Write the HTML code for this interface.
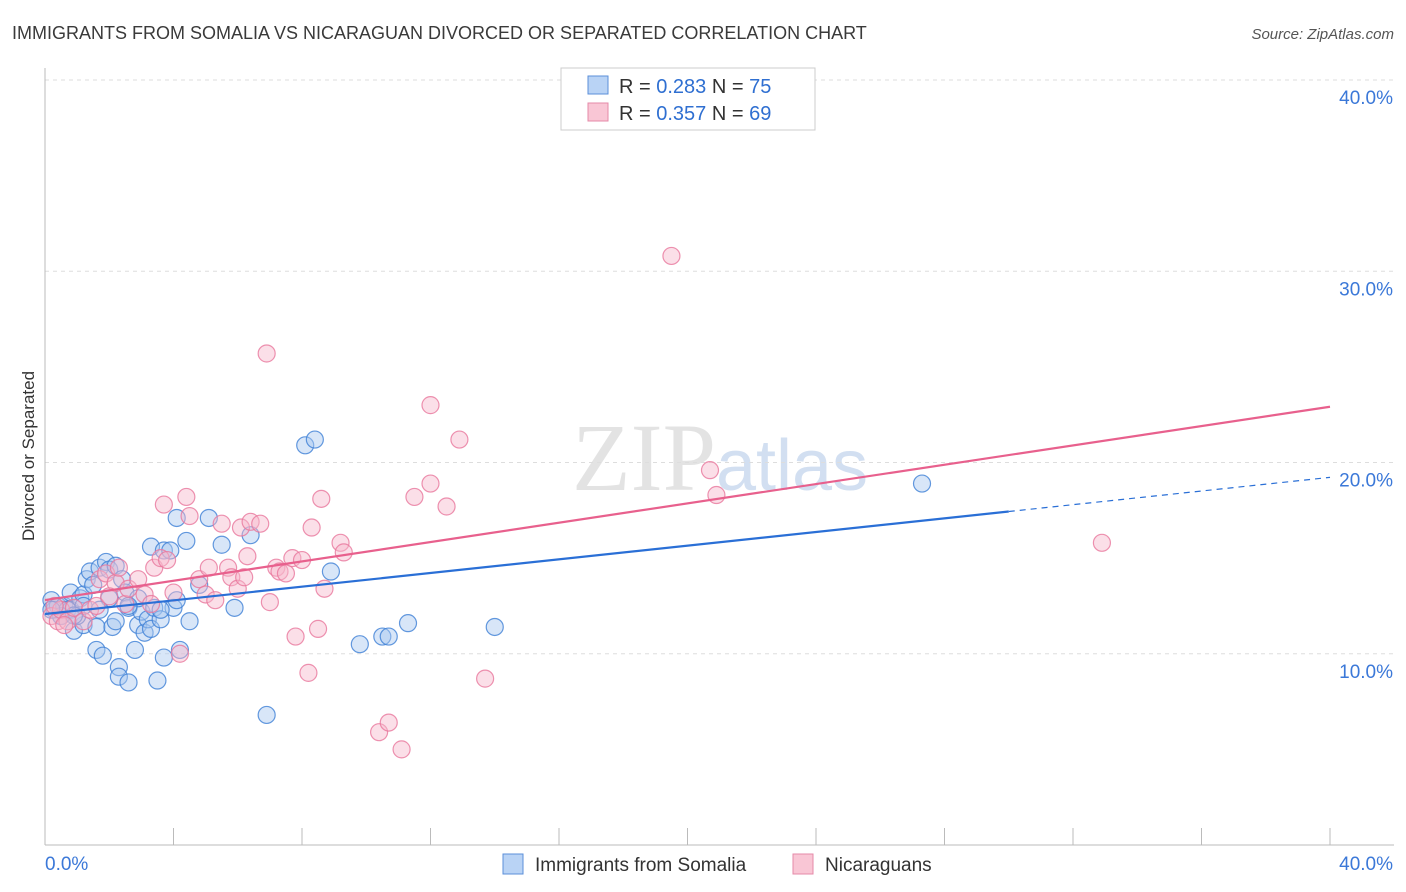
<!DOCTYPE html>
<html><head><meta charset="utf-8"><style>
body{margin:0;background:#fff;font-family:"Liberation Sans",sans-serif}
svg{display:block}
</style></head><body>
<svg id="chart" width="1406" height="892" xmlns="http://www.w3.org/2000/svg" font-family="Liberation Sans, sans-serif">
<text x="12" y="39" font-size="18" fill="#3a3a3a">IMMIGRANTS FROM SOMALIA VS NICARAGUAN DIVORCED OR SEPARATED CORRELATION CHART</text>
<text x="1394" y="39" font-size="15" fill="#555" font-style="italic" text-anchor="end">Source: ZipAtlas.com</text>
<text x="720" y="490" font-size="96" fill="#ddd" text-anchor="middle" font-family="Liberation Serif, serif" opacity="0.8">ZIP<tspan fill="#c8d8ee" font-family="Liberation Sans, sans-serif" font-size="72">atlas</tspan></text>
<text transform="translate(34,456) rotate(-90)" font-size="17" fill="#333" text-anchor="middle">Divorced or Separated</text>
<g id="grid"></g><g id="axes"></g><g id="marks"></g>
<g>
<rect x="561" y="68" width="254" height="62" fill="#fff" stroke="#ccc"/>
<rect x="588" y="76" width="20" height="18" fill="#b9d3f5" stroke="#5b8fd9"/>
<text x="619" y="93" font-size="20" fill="#333">R = <tspan fill="#2f6fd1">0.283</tspan>   N = <tspan fill="#2f6fd1">75</tspan></text>
<rect x="588" y="103" width="20" height="18" fill="#f9c6d5" stroke="#e58aa8"/>
<text x="619" y="120" font-size="20" fill="#333">R = <tspan fill="#2f6fd1">0.357</tspan>   N = <tspan fill="#2f6fd1">69</tspan></text>
</g>
<g>
<rect x="503" y="854" width="20" height="20" fill="#b9d3f5" stroke="#5b8fd9"/>
<text x="535" y="871" font-size="19" fill="#333">Immigrants from Somalia</text>
<rect x="793" y="854" width="20" height="20" fill="#f9c6d5" stroke="#e58aa8"/>
<text x="825" y="871" font-size="19" fill="#333">Nicaraguans</text>
</g>
</svg>
<script>
const yTicks=[10,20,30,40];
const xTickLabels=["0.0%","40.0%"];
const blueX=[0.2,0.3,0.4,0.5,0.6,0.8,0.8,0.9,1.1,1.2,1.2,1.3,1.4,1.5,1.6,1.6,1.7,1.8,1.9,2.0,2.0,2.1,2.2,2.2,2.3,2.3,2.4,2.5,2.6,2.6,2.8,2.9,3.0,3.1,3.2,3.3,3.3,3.4,3.5,3.6,3.7,3.7,3.9,4.0,4.1,4.1,4.2,4.4,4.5,4.8,5.1,5.5,5.9,6.4,6.9,8.1,8.4,8.9,9.8,10.5,10.7,11.3,14.0,27.3,0.5,0.7,1.0,1.2,2.9,3.6,1.7,2.6,0.2,0.9];
const blueY=[12.8,12.3,12.5,11.97,12.5,12.3,13.2,11.2,12.9,11.5,13.1,13.9,14.3,13.6,11.4,10.2,14.5,9.9,14.8,14.4,12.9,11.4,14.6,11.7,9.3,8.8,13.9,13.2,8.5,12.4,10.2,11.5,12.2,11.1,11.8,15.6,11.3,12.4,8.6,11.8,9.8,15.4,15.4,12.4,17.1,12.8,10.2,15.9,11.7,13.6,17.1,15.7,12.4,16.2,6.8,20.9,21.2,14.3,10.5,10.9,10.9,11.6,11.4,18.9,11.97,12.3,11.97,12.5,12.9,12.3,12.3,12.5,12.3,12.0];
const pinkX=[0.2,0.4,0.5,0.7,0.9,1.2,1.4,1.7,1.9,2.2,2.3,2.5,2.6,2.9,3.1,3.3,3.4,3.6,3.7,3.8,4.0,4.2,4.4,4.5,4.8,5.0,5.1,5.3,5.5,5.7,5.8,6.0,6.1,6.3,6.4,6.7,6.9,7.0,7.2,7.3,7.5,7.7,7.8,8.0,8.2,8.3,8.5,8.6,8.7,9.2,9.3,10.4,10.7,11.1,11.5,12.0,12.0,12.5,12.9,13.7,19.5,20.7,20.9,32.9,0.3,0.6,1.6,2.0,6.2];
const pinkY=[11.97,11.7,12.3,11.7,12.4,11.7,12.3,13.9,14.2,13.7,14.5,12.6,13.4,13.9,13.1,12.6,14.5,15.0,17.8,14.9,13.2,10.0,18.2,17.2,13.9,13.1,14.5,12.8,16.8,14.5,14.0,13.4,16.6,15.1,16.9,16.8,25.7,12.7,14.5,14.3,14.2,15.0,10.9,14.9,9.0,16.6,11.3,18.1,13.4,15.8,15.3,5.9,6.4,5.0,18.2,18.9,23.0,17.7,21.2,8.7,30.8,19.6,18.3,15.8,12.5,11.5,12.5,13.0,14.0];
const NS="http://www.w3.org/2000/svg";
const X0=45,X1=1330,Y0=845,Y1=80;
const xs=v=>X0+(X1-X0)*v/40, ys=v=>Y0-(Y0-Y1)*v/40;
function el(t,a,p){const e=document.createElementNS(NS,t);for(const k in a)e.setAttribute(k,a[k]);p.appendChild(e);return e;}
const grid=document.getElementById('grid'),axes=document.getElementById('axes'),marks=document.getElementById('marks');
yTicks.forEach(t=>{
 const g=el('line',{x1:X0,x2:1394,y1:ys(t),y2:ys(t),stroke:'#ddd','stroke-dasharray':'4,4'},grid);
 
 
 const tx=el('text',{x:1393,y:ys(t)+24,'font-size':19,fill:'#3b78d8','text-anchor':'end'},axes);
 tx.textContent=t.toFixed(1)+'%';
 
 
});
const ax=el('line',{x1:X0,x2:X0,y1:68,y2:Y0,stroke:'#bbb'},axes);


const bx=el('line',{x1:X0,x2:1394,y1:Y0,y2:Y0,stroke:'#bbb'},axes);


for(let i=1;i<=10;i++){const tk=el('line',{x1:xs(i*4),x2:xs(i*4),y1:828,y2:Y0,stroke:'#bbb'},axes);
 
 }
const xl0=el('text',{x:45,y:870,'font-size':19,fill:'#3b78d8'},axes);xl0.textContent=xTickLabels[0];


const xl1=el('text',{x:1393,y:870,'font-size':19,fill:'#3b78d8','text-anchor':'end'},axes);xl1.textContent=xTickLabels[1];


function dots(X,Y,fill,stroke,name){X.forEach((x,i)=>{const c=el('circle',{cx:xs(x),cy:ys(Y[i]),r:8.5,fill:fill,'fill-opacity':0.45,stroke:stroke,'stroke-opacity':0.8,'stroke-width':1.2},marks);
 
 });}
dots(blueX,blueY,'#a9c8f0','#3d7fd6','somalia-point');
dots(pinkX,pinkY,'#f6b8cb','#e8779c','nicaraguan-point');
function fit(X,Y){const n=X.length;let mx=0,my=0;X.forEach((x,i)=>{mx+=x;my+=Y[i]});mx/=n;my/=n;let sxy=0,sxx=0;X.forEach((x,i)=>{sxy+=(x-mx)*(Y[i]-my);sxx+=(x-mx)**2});const b=sxy/sxx;return [my-b*mx,b];}
const [ba,bb]=fit(blueX,blueY),[pa,pb]=fit(pinkX,pinkY);
const l1=el('line',{x1:xs(0),y1:ys(ba),x2:xs(30),y2:ys(ba+bb*30),stroke:'#2a6fd6','stroke-width':2.2},marks);


const l2=el('line',{x1:xs(30),y1:ys(ba+bb*30),x2:xs(40),y2:ys(ba+bb*40),stroke:'#2a6fd6','stroke-width':1.2,'stroke-dasharray':'6,5'},marks);


const l3=el('line',{x1:xs(0),y1:ys(pa),x2:xs(40),y2:ys(pa+pb*40),stroke:'#e8608d','stroke-width':2.2},marks);


</script>
</body></html>
